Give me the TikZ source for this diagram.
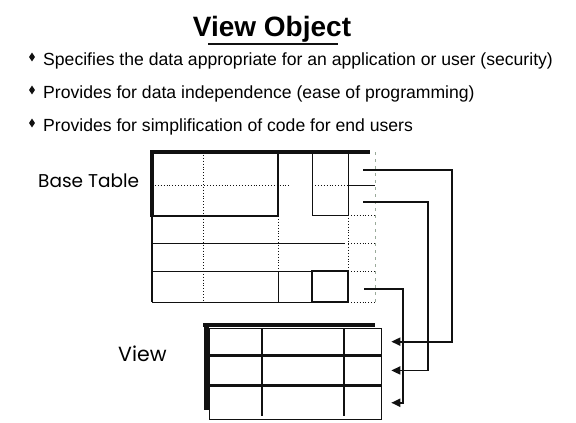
\documentclass[tikz,border=0pt]{standalone}
\usepackage{fontspec}
\setmainfont{Liberation Sans}
\newfontfamily\labelfont{Poppins}
\usetikzlibrary{
  arrows.meta,
  shapes.geometric,
  positioning,
  calc
}
\definecolor{voInk}{HTML}{111111}
\definecolor{voFaint}{HTML}{9AAA9A}
\tikzset{
  voframe/.style={draw=voInk, line width=1pt},
  vorule/.style={voInk, line width=1pt},
  voshade/.style={voInk, line width=4pt},
  vodot/.style={voInk, line width=0.9pt, dotted},
  vofaint/.style={voFaint, line width=0.8pt, dash pattern=on 3pt off 4pt},
  vocell/.style={draw=voInk, line width=1.3pt, minimum width=172pt, inner sep=0, anchor=north west},
  vobullet/.style={diamond, fill=voInk, inner sep=0, minimum width=6pt, minimum height=9pt},
  vopoint/.style={font=\fontsize{17.6}{21}\selectfont, anchor=base west, inner sep=0},
  volabel/.style={font=\labelfont\fontsize{18.5}{22}\selectfont, anchor=base west, inner sep=0},
  vofeed/.style={-{Triangle[length=9pt,width=8pt]}, voInk, line width=1.8pt}
}
\begin{document}
\begin{tikzpicture}[x=1pt, y=-1pt]
  \useasboundingbox (0,0) rectangle (576,423);
  \node[font=\bfseries\fontsize{28}{32}\selectfont, anchor=base, inner sep=0] (title) at (272,36) {View Object};
  \draw[voInk, line width=1.5pt] ($(title.base)+(-64,8)$) -- ($(title.base)+(66,8)$);

  \foreach \y/\txt [count=\i] in {
      65/{Specifies the data appropriate for an application or user (security)},
      98/{Provides for data independence (ease of programming)},
      131/{Provides for simplification of code for end users}} {
    \node[vobullet] (dot\i) at (32,\y-8) {};
    \node[vopoint] (point\i) at (43,\y) {\txt};
  }

  \node[volabel] (basetag) at (38,187) {Base Table};
  \node[volabel, font=\labelfont\fontsize{20.5}{24}\selectfont] (viewtag) at (118,361) {View};

  % base table
  \draw[voshade] (150,152) -- (370,152);
  \draw[voshade] (152,152) -- (152,217);
  \draw[voInk, line width=2pt] (152,217) -- (152,302);
  \draw[voframe, line width=1.6pt] (152,152) rectangle (278,216);
  \draw[voframe] (312,152) rectangle (348,215);
  \draw[voframe] (152,271) rectangle (278,302);
  \draw[voframe, line width=2pt] (312,271) rectangle (348,302);
  \draw[vorule] (278,271) -- (312,271);
  \draw[vorule] (278,302) -- (312,302);
  \draw[vorule] (152,243) -- (345,243);
  \draw[vodot] (152,185) -- (290,185);
  \draw[vodot] (315,185) -- (348,185);
  \draw[vorule] (348,185) -- (375,185);
  \draw[vodot] (203,152) -- (203,302);
  \draw[vodot] (278,216) -- (278,271);
  \draw[vodot] (348,215) -- (348,271);
  \foreach \y in {215,243,271,302}
    \draw[vodot] (348,\y) -- (375,\y);
  \draw[vofaint] (375,152) -- (375,302);
  \coordinate (src1) at (363,170);
  \coordinate (src2) at (363,202);
  \coordinate (src3) at (364,289);

  % view
  \draw[voshade] (203,325) -- (375,325);
  \draw[voInk, line width=5pt] (206,325) -- (206,410);
  \node[vocell, minimum height=26pt] (row1) at (209,328) {};
  \node[vocell, minimum height=29pt] (row2) at (row1.south west) {};
  \node[vocell, minimum height=33pt] (row3) at (row2.south west) {};
  \foreach \cx in {262,344}
    \draw[vorule, line width=1.3pt] (\cx,328) -- (\cx,416);

  \draw[vofeed] (src1) -- ++(89,0) |- ([xshift=9pt]row1.east);
  \draw[vofeed] (src2) -- ++(65,0) |- ([xshift=9pt]row2.east);
  \draw[vofeed] (src3) -- ++(39,0) |- ([xshift=9pt]row3.east);
\end{tikzpicture}
\end{document}
